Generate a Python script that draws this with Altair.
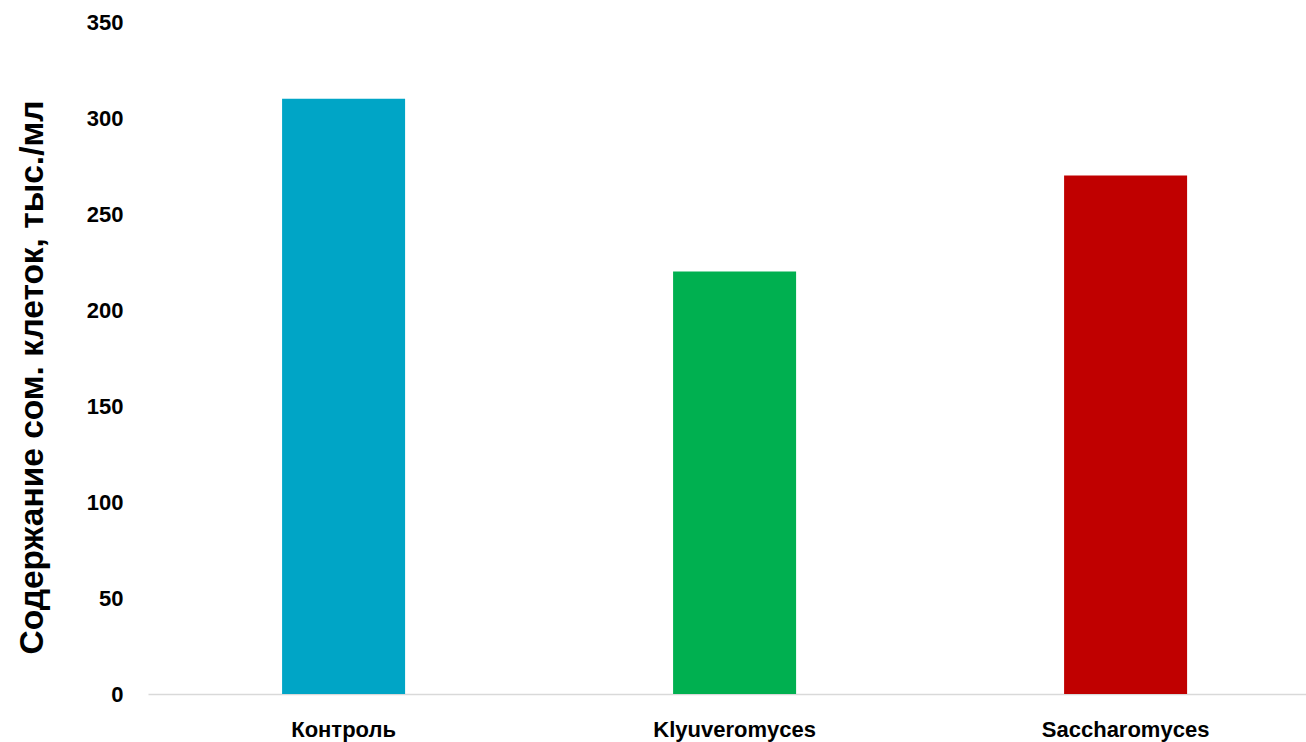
import altair as alt
import pandas as pd

categories = ["Контроль", "Klyuveromyces", "Saccharomyces"]
values = [310, 220, 270]
colors = ["#00A5C6", "#00B050", "#C00000"]

df = pd.DataFrame({"cat": categories, "val": values})

FONT = "Liberation Sans"

chart = alt.Chart(df).mark_bar().encode(
    x=alt.X(
        "cat:N",
        sort=categories,
        scale=alt.Scale(paddingInner=0.6854, paddingOuter=0.3235, align=0.53),
        axis=alt.Axis(
            title=None,
            labelAngle=0,
            ticks=False,
            labelPadding=25,
            labelFont=FONT,
            labelFontSize=22,
            labelFontWeight="bold",
            labelColor="#000000",
            domainColor="#D9D9D9",
            domainWidth=1.5,
            labelBaseline="top",
        ),
    ),
    y=alt.Y(
        "val:Q",
        scale=alt.Scale(domain=[0, 350], nice=False),
        axis=alt.Axis(
            title="Содержание сом. клеток, тыс./мл",
            values=[0, 50, 100, 150, 200, 250, 300, 350],
            grid=False,
            domain=False,
            ticks=False,
            labelPadding=25,
            labelFont=FONT,
            labelFontSize=22,
            labelFontWeight="bold",
            labelColor="#000000",
            titleFont=FONT,
            titleFontSize=33.5,
            titleFontWeight="bold",
            titleColor="#000000",
            titleAngle=-90,
            titleAlign="center",
            titleBaseline="alphabetic",
            titleX=-106,
            titleY=355,
        ),
    ),
    color=alt.Color("cat:N", scale=alt.Scale(domain=categories, range=colors), legend=None),
).properties(
    width=1158,
    height=672,
    autosize=alt.AutoSizeParams(type="none"),
    padding={"left": 148, "top": 22, "right": 0, "bottom": 48},
).configure_view(stroke=None)

chart.save("out.html", embed_options={"renderer": "svg", "actions": False})
